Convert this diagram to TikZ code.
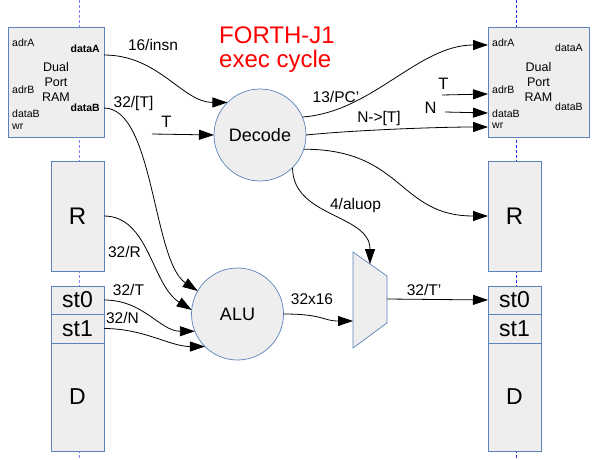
\documentclass[tikz,border=0pt]{standalone}
\usepackage{fontspec}
\setmainfont{Liberation Sans}
\usetikzlibrary{arrows.meta,positioning}
\definecolor{regedge}{RGB}{92,130,188}
\definecolor{regfill}{RGB}{238,238,238}
\definecolor{guideL}{RGB}{128,128,255}
\definecolor{guideR}{RGB}{40,40,255}

\begin{document}
\begin{tikzpicture}[x=1pt, y=-1pt,
  reg/.style={draw=regedge, fill=regfill, line width=.8pt, inner sep=0pt,
              outer sep=0pt, minimum width=53pt,
              font=\fontsize{23}{26}\selectfont},
  ram/.style={draw=regedge, fill=regfill, line width=.8pt, inner sep=0pt,
              outer sep=0pt, minimum height=110pt, align=center,
              font=\fontsize{12.5}{15}\selectfont},
  unit/.style={circle, draw=regedge, fill=regfill, line width=.7pt,
               minimum size=92pt, inner sep=0pt, outer sep=0pt,
               font=\fontsize{18}{20}\selectfont},
  port/.style={inner sep=0pt, font=\fontsize{10.5}{12}\selectfont},
  bus/.style={inner sep=0pt, font=\fontsize{15.5}{18}\selectfont},
  flow/.style={-{Triangle[length=15pt,width=10pt]}, line width=.8pt},
  guide/.style={line width=1pt, dash pattern=on 3pt off 2pt}
]
\useasboundingbox (0,0) rectangle (600,460);

% column guides
\draw[guide, guideL] (79,0) -- (79,460);
\draw[guide, guideR] (516.5,0) -- (516.5,460);

% current state (left column)
\node[ram, minimum width=96pt] (ramL) at (56,82) {Dual\\Port\\RAM};
\node[port, anchor=west] (ramL-adrA) at (12,43) {adrA};
\node[port, anchor=west] (ramL-adrB) at (12,90) {adrB};
\node[port, anchor=west] (ramL-dataB) at (12,114) {dataB};
\node[port, anchor=west] (ramL-wr) at (12,127) {wr};
\node[port, anchor=east] (ramL-outA) at (100,49) {\bfseries dataA};
\node[port, anchor=east] (ramL-outB) at (100,108) {\bfseries dataB};
\coordinate (ramL-qA) at (ramL.east |- 0,55);
\coordinate (ramL-qB) at (ramL.east |- 0,108);

\node[reg, minimum height=110pt] (regL-R) at (77.5,216)
  {\fontsize{24}{26}\selectfont R};
\node[reg, minimum height=28pt] (stL-0) at (77.5,300) {st0};
\node[reg, minimum height=29pt, below=0pt of stL-0] (stL-1) {st1};
\node[reg, minimum height=108pt, below=0pt of stL-1] (stL-D) {D};

% next state (right column)
\node[ram, minimum width=101pt] (ramR) at (538.5,82) {Dual\\Port\\RAM};
\node[port, anchor=west] (ramR-adrA) at (492,43) {adrA};
\node[port, anchor=west] (ramR-adrB) at (492,90) {adrB};
\node[port, anchor=west] (ramR-dataB) at (492,114) {dataB};
\node[port, anchor=west] (ramR-wr) at (492,126) {wr};
\node[port, anchor=west] (ramR-outA) at (555,48) {dataA};
\node[port, anchor=west] (ramR-outB) at (555,107) {dataB};
\coordinate (ramR-inA) at (ramR.west |- 0,45);
\coordinate (ramR-inB) at (ramR.west |- 0,94);
\coordinate (ramR-inD) at (ramR.west |- 0,113);
\coordinate (ramR-inW) at (ramR.west |- 0,127);

\node[reg, minimum height=110pt] (regR-R) at (514.5,216)
  {\fontsize{24}{26}\selectfont R};
\node[reg, minimum height=28pt] (stR-0) at (514.5,300) {st0};
\node[reg, minimum height=29pt, below=0pt of stR-0] (stR-1) {st1};
\node[reg, minimum height=108pt, below=0pt of stR-1] (stR-D) {D};

% title
\node[red, align=left, anchor=north west, inner sep=0pt,
      font=\fontsize{24}{24}\selectfont] (title) at (219,27)
  {FORTH-J1\\exec cycle};

% datapath
\node[unit] (dec) at (260,135) {Decode};
\node[unit] (alu) at (237.5,314) {ALU};
\draw[draw=regedge, fill=regfill, line width=.7pt]
  (353,252) -- (387,276) -- (387,323) -- (353,348) -- cycle;
\coordinate (mux-sel) at (370,264);
\coordinate (mux-in) at (353,321);
\coordinate (mux-out) at (387,299);
\coordinate (T-src) at (152,134);
\coordinate (Tr-src) at (442,95);
\coordinate (Nr-src) at (445,112);

% bus labels
\node[bus] (lbl-insn) at (153,45) {16/insn};
\node[bus] (lbl-memT) at (133.5,103) {32/[T]};
\node[bus, font=\fontsize{16.5}{18}\selectfont] (lbl-T) at (166.5,122) {T};
\node[bus] (lbl-pc) at (336,97) {13/PC'};
\node[bus] (lbl-store) at (379,118) {N->[T]};
\node[bus, font=\fontsize{16.5}{18}\selectfont] (lbl-Tr) at (443.5,84) {T};
\node[bus, font=\fontsize{16.5}{18}\selectfont] (lbl-Nr) at (430.5,108) {N};
\node[bus] (lbl-aluop) at (355.5,205) {4/aluop};
\node[bus] (lbl-R) at (124.5,252) {32/R};
\node[bus] (lbl-st0) at (128.5,290) {32/T};
\node[bus] (lbl-st1) at (122.5,318) {32/N};
\node[bus] (lbl-res) at (312,299) {32x16};
\node[bus] (lbl-newT) at (424,290) {32/T'};

% connectors
\draw[flow] (ramL-qA) .. controls +(55,0) and +(-45,0) .. (dec.135);
\draw[flow] (ramL-qB) .. controls +(50,0) and +(-45,-30) .. (alu.150);
\draw[flow] (T-src) -- (dec.180);
\draw[flow] (dec.23) .. controls +(70,-5) and +(-70,0) .. (ramR-inA);
\draw[flow] (Tr-src) -- (ramR-inB);
\draw[flow] (Nr-src) -- (ramR-inD);
\draw[flow] (dec.0) .. controls +(50,-5) and +(-50,0) .. (ramR-inW);
\draw[flow] (dec.-18) .. controls +(100,0) and +(-90,0) .. (regR-R.west);
\draw[flow] (dec.-45) .. controls +(0,50) and +(0,-50) .. (mux-sel);
\draw[flow] (regL-R.east) .. controls +(45,0) and +(-40,-25) .. (alu.175);
\draw[flow] (stL-0.east) .. controls +(40,0) and +(-35,0) .. (alu.202);
\draw[flow] (stL-1.east) .. controls +(40,0) and +(-35,0) .. (alu.225);
\draw[flow] (alu.0) .. controls +(40,0) and +(-30,0) .. (mux-in);
\draw[flow] (mux-out) -- (stR-0.west);
\end{tikzpicture}
\end{document}
